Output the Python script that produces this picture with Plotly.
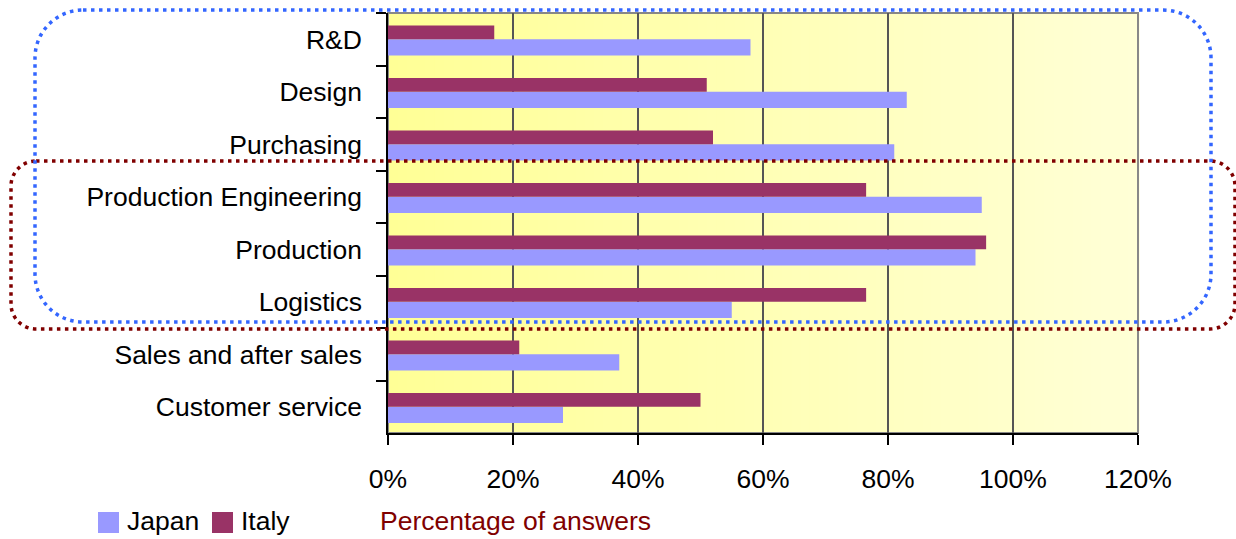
import plotly.graph_objects as go

# Business functions (top to bottom) and share of answers per country, in %
categories = [
    "R&D",
    "Design",
    "Purchasing",
    "Production Engineering",
    "Production",
    "Logistics",
    "Sales and after sales",
    "Customer service",
]
japan = [58, 83, 81, 95, 94, 55, 37, 28]
italy = [17, 51, 52, 76.5, 95.7, 76.5, 21, 50]

tick_values = [0, 20, 40, 60, 80, 100, 120]
tick_labels = ["0%", "20%", "40%", "60%", "80%", "100%", "120%"]

series_names = ["Japan", "Italy"]
series_colors = {"Japan": "#9999FF", "Italy": "#993366"}

FONT = "Liberation Sans, Arial, sans-serif"
FONT_SIZE = 26.5

W, H = 1236, 539
ML, MR, MT, MB = 388, 98, 13, 106
PW, PH = W - ML - MR, H - MT - MB


def px(x):
    return (x - ML) / PW


def py(y):
    return (H - MB - y) / PH


def rounded_rect(x0, y0, x1, y1, r):
    """Closed rounded-rectangle path (pixel box -> paper coordinates)."""
    k = 0.5523 * r
    pts = [
        ("M", [(x0 + r, y0)]),
        ("L", [(x1 - r, y0)]),
        ("C", [(x1 - r + k, y0), (x1, y0 + r - k), (x1, y0 + r)]),
        ("L", [(x1, y1 - r)]),
        ("C", [(x1, y1 - r + k), (x1 - r + k, y1), (x1 - r, y1)]),
        ("L", [(x0 + r, y1)]),
        ("C", [(x0 + r - k, y1), (x0, y1 - r + k), (x0, y1 - r)]),
        ("L", [(x0, y0 + r)]),
        ("C", [(x0, y0 + r - k), (x0 + r - k, y0), (x0 + r, y0)]),
    ]
    out = []
    for cmd, coords in pts:
        out.append(cmd + " ".join(f"{px(a):.5f},{py(b):.5f}" for a, b in coords))
    return " ".join(out) + " Z"


fig = go.Figure()

fig.add_trace(go.Bar(
    y=categories, x=japan, name="Japan", orientation="h",
    marker=dict(color=series_colors["Japan"], line=dict(width=0)),
    offset=0.0, width=0.31, showlegend=False,
))
fig.add_trace(go.Bar(
    y=categories, x=italy, name="Italy", orientation="h",
    marker=dict(color=series_colors["Italy"], line=dict(width=0)),
    offset=-0.26, width=0.26, showlegend=False,
))

shapes = []

# Horizontal yellow gradient behind the plot
n = 80
c0 = (255, 255, 150)
c1 = (255, 255, 214)
for i in range(n):
    t = i / (n - 1)
    col = tuple(round(c0[j] + (c1[j] - c0[j]) * t) for j in range(3))
    shapes.append(dict(
        type="rect", xref="x domain", yref="y domain",
        x0=i / n, x1=(i + 1) / n + 0.002, y0=0, y1=1,
        fillcolor=f"rgb{col}", line=dict(width=0), layer="below",
    ))

# Grey frame on top and right
shapes.append(dict(
    type="rect", xref="x domain", yref="y domain", x0=0, x1=1, y0=0, y1=1,
    line=dict(color="#888888", width=2), fillcolor="rgba(0,0,0,0)", layer="below",
))

# Dotted highlight outlines
shapes.append(dict(
    type="path", xref="paper", yref="paper",
    path=rounded_rect(11, 161, 1235, 329, 25),
    line=dict(color="#800000", width=3.5, dash="3.5px,4.5px"),
    layer="above",
))
shapes.append(dict(
    type="path", xref="paper", yref="paper",
    path=rounded_rect(35, 10, 1211, 322, 48),
    line=dict(color="#3366FF", width=3.5, dash="3.5px,4.5px"),
    layer="above",
))

# Legend swatches
legend_boxes = {"Japan": (98, 119), "Italy": (212, 233)}
for name in series_names:
    a, b = legend_boxes[name]
    shapes.append(dict(
        type="rect", xref="paper", yref="paper",
        x0=px(a), x1=px(b), y0=py(533), y1=py(512),
        fillcolor=series_colors[name], line=dict(width=0),
    ))

annotations = [
    dict(text="Japan", x=px(125), y=py(521), xref="paper", yref="paper",
         xanchor="left", yanchor="middle", showarrow=False,
         font=dict(family=FONT, size=FONT_SIZE, color="black")),
    dict(text="Italy", x=px(239), y=py(521), xref="paper", yref="paper",
         xanchor="left", yanchor="middle", showarrow=False,
         font=dict(family=FONT, size=FONT_SIZE, color="black")),
    dict(text="Percentage of answers", x=px(378), y=py(521), xref="paper", yref="paper",
         xanchor="left", yanchor="middle", showarrow=False,
         font=dict(family=FONT, size=FONT_SIZE, color="#800000")),
]

fig.update_layout(
    width=W, height=H,
    margin=dict(l=ML, r=MR, t=MT, b=MB, pad=0),
    paper_bgcolor="white",
    plot_bgcolor="rgba(0,0,0,0)",
    barmode="overlay",
    shapes=shapes,
    annotations=annotations,
    font=dict(family=FONT, size=FONT_SIZE, color="black"),
    xaxis=dict(
        range=[0, 120], tickvals=tick_values, ticktext=tick_labels,
        showgrid=True, gridcolor="#555555", gridwidth=1.5,
        showline=True, linecolor="black", linewidth=1.5,
        ticks="outside", ticklen=10, tickcolor="black", tickwidth=1.5,
        ticklabelstandoff=11, zeroline=False, fixedrange=True,
        tickfont=dict(family=FONT, size=FONT_SIZE, color="black"),
    ),
    yaxis=dict(
        categoryorder="array", categoryarray=categories,
        autorange="reversed",
        showgrid=False, showline=True, linecolor="black", linewidth=1.5,
        ticks="outside", ticklen=10, tickcolor="black", tickwidth=1.5,
        tickson="boundaries", ticklabelstandoff=19, fixedrange=True,
        tickfont=dict(family=FONT, size=FONT_SIZE, color="black"),
    ),
)

fig.write_html("out.html")
